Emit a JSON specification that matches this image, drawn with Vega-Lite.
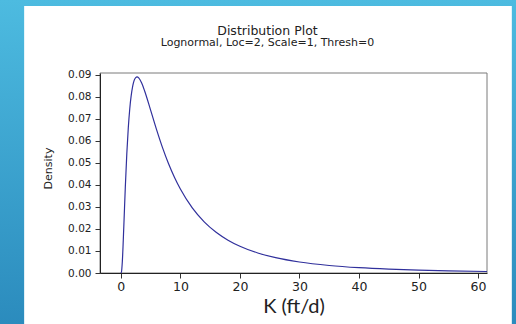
{
  "$schema": "https://vega.github.io/schema/vega-lite/v6.json",
  "width": 387,
  "height": 200,
  "autosize": "none",
  "padding": {"left": 100, "top": 73, "right": 29, "bottom": 51},
  "background": "#3ea6d3",
  "title": {
    "text": "Distribution Plot",
    "subtitle": "Lognormal, Loc=2, Scale=1, Thresh=0",
    "font": "DejaVu Sans",
    "fontSize": 12.5,
    "fontWeight": "normal",
    "color": "#222222",
    "subtitleFont": "DejaVu Sans",
    "subtitleFontSize": 11,
    "subtitleColor": "#222222",
    "subtitlePadding": 0,
    "anchor": "middle",
    "frame": "group",
    "dx": -26,
    "offset": -48.5
  },
  "config": {
    "view": {"stroke": null},
    "axis": {
      "grid": false,
      "labelFont": "DejaVu Sans",
      "labelFontSize": 10.5,
      "labelColor": "#222222",
      "labelOverlap": false,
      "tickColor": "#333333",
      "tickSize": 5,
      "domainColor": "#222222",
      "zindex": 2
    }
  },
  "datasets": {
    "panel": [{"name": "panel"}],
    "pdf": [
      {"k": 0, "density": 0},
      {"k": 0.1, "density": 0.00038},
      {"k": 0.25, "density": 0.00516},
      {"k": 0.5, "density": 0.02123},
      {"k": 0.75, "density": 0.03886},
      {"k": 1, "density": 0.05399},
      {"k": 1.25, "density": 0.06582},
      {"k": 1.5, "density": 0.07459},
      {"k": 2, "density": 0.08492},
      {"k": 2.5, "density": 0.08871},
      {"k": 2.718, "density": 0.08901},
      {"k": 3, "density": 0.08858},
      {"k": 3.5, "density": 0.08622},
      {"k": 4, "density": 0.08262},
      {"k": 5, "density": 0.07393},
      {"k": 6, "density": 0.06507},
      {"k": 7, "density": 0.05691},
      {"k": 8, "density": 0.04971},
      {"k": 9, "density": 0.04347},
      {"k": 10, "density": 0.03811},
      {"k": 12, "density": 0.02956},
      {"k": 14, "density": 0.02323},
      {"k": 16, "density": 0.0185},
      {"k": 18, "density": 0.01491},
      {"k": 20, "density": 0.01215},
      {"k": 23, "density": 0.0091},
      {"k": 26, "density": 0.006954},
      {"k": 30, "density": 0.004982},
      {"k": 35, "density": 0.003401},
      {"k": 40, "density": 0.002396},
      {"k": 45, "density": 0.001733},
      {"k": 50, "density": 0.001283},
      {"k": 55, "density": 0.000967},
      {"k": 61.5, "density": 0.000687}
    ]
  },
  "layer": [
    {
      "data": {"name": "panel"},
      "mark": {
        "type": "rect",
        "clip": false,
        "color": {
          "gradient": "linear",
          "x1": 0, "y1": 0, "x2": 0, "y2": 1,
          "stops": [
            {"offset": 0, "color": "#4dbbe0"},
            {"offset": 1, "color": "#2b8bbd"}
          ]
        }
      },
      "encoding": {
        "x": {"datum": -20.4},
        "x2": {"datum": 66.5},
        "y": {"datum": -0.024},
        "y2": {"datum": 0.124}
      }
    },
    {
      "data": {"name": "panel"},
      "mark": {"type": "rect", "clip": false, "color": "#ffffff"},
      "encoding": {
        "x": {"datum": -16.24},
        "x2": {"datum": 65.67},
        "y": {"datum": -0.03},
        "y2": {"datum": 0.1212}
      }
    },
    {
      "data": {"name": "panel"},
      "mark": {"type": "rect", "clip": false, "fill": null, "fillOpacity": 0, "stroke": "#7a7a7a", "strokeWidth": 1},
      "encoding": {
        "x": {"datum": -3.5},
        "x2": {"datum": 61.5},
        "y": {"datum": 0},
        "y2": {"datum": 0.0908}
      }
    },
    {
      "data": {"name": "pdf"},
      "mark": {"type": "line", "color": "#30309c", "strokeWidth": 1.2, "interpolate": "monotone", "clip": true},
      "encoding": {
        "x": {
          "field": "k",
          "type": "quantitative",
          "scale": {"domain": [-3.5, 61.5], "nice": false, "zero": false},
          "axis": {
            "values": [0, 10, 20, 30, 40, 50, 60],
            "tickCount": 20,
            "labelFontSize": 12.5,
            "title": "K (ft/d)",
            "titleFont": "Lato",
            "titleFontSize": 20,
            "titleFontWeight": "normal",
            "titleColor": "#222222",
            "titlePadding": 4,
            "labelPadding": 2,
            "zindex": 2
          }
        },
        "y": {
          "field": "density",
          "type": "quantitative",
          "scale": {"domain": [0, 0.0908], "nice": false},
          "axis": {
            "values": [0, 0.01, 0.02, 0.03, 0.04, 0.05, 0.06, 0.07, 0.08, 0.09],
            "tickCount": 20,
            "labelOverlap": false,
            "format": ".2f",
            "title": "Density",
            "titleFont": "DejaVu Sans",
            "titleFontSize": 11,
            "titleFontWeight": "normal",
            "titleColor": "#222222",
            "titlePadding": 14,
            "titleY": 95,
            "labelPadding": 4,
            "zindex": 2
          }
        }
      }
    }
  ]
}
